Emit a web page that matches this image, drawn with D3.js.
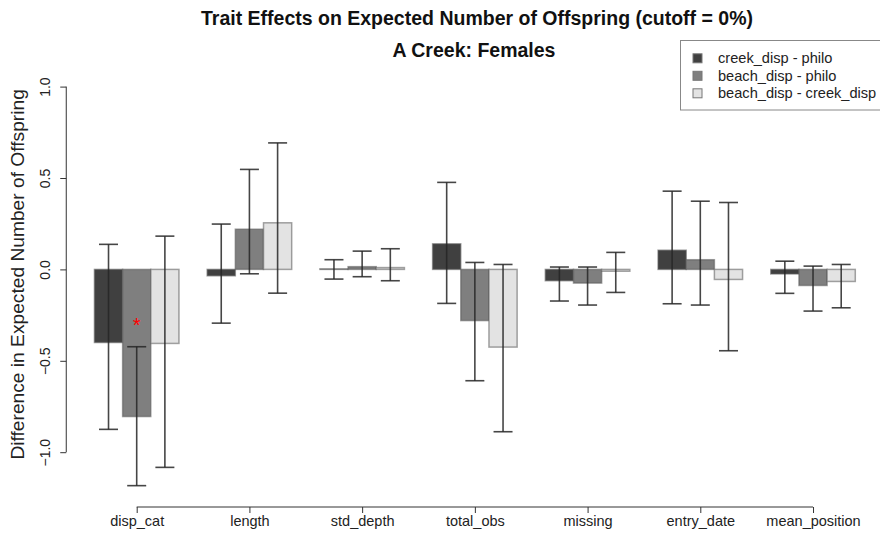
<!DOCTYPE html>
<html>
<head>
<meta charset="utf-8">
<script src="https://cdn.jsdelivr.net/npm/d3@7"></script>
<style>
  html, body { margin: 0; padding: 0; background: #fff; }
  svg { display: block; font-family: "Liberation Sans", Arial, Helvetica, sans-serif; }
</style>
</head>
<body>
<svg id="chart" width="880" height="539"></svg>
<script>
// ---- data ----
const categories = ["disp_cat", "length", "std_depth", "total_obs", "missing", "entry_date", "mean_position"];
const seriesNames = ["creek_disp - philo", "beach_disp - philo", "beach_disp - creek_disp"];

const creekPhilo   = [-0.400, -0.035, 0.003, 0.140, -0.062, 0.105, -0.025];
const beachPhilo   = [-0.805,  0.220, 0.015, -0.280, -0.075, 0.053, -0.088];
const beachCreek   = [-0.405,  0.255, 0.010, -0.425, -0.010, -0.055, -0.066];

const creekPhiloLo = [-0.875, -0.294, -0.053, -0.186, -0.173, -0.188, -0.131];
const creekPhiloHi = [ 0.137,  0.248,  0.053,  0.476,  0.013,  0.428,  0.045];
const beachPhiloLo = [-1.183, -0.024, -0.040, -0.609, -0.195, -0.195, -0.228];
const beachPhiloHi = [-0.423,  0.547,  0.100,  0.038,  0.013,  0.373,  0.018];
const beachCreekLo = [-1.083, -0.130, -0.062, -0.888, -0.126, -0.445, -0.210];
const beachCreekHi = [ 0.182,  0.692,  0.113,  0.027,  0.093,  0.366,  0.027];

const yTicks = [-1.0, -0.5, 0.0, 0.5, 1.0];
const sigMarks = [{ trait: "disp_cat", series: "beach_disp - philo", value: -0.30 }];

const titleText = "Trait Effects on Expected Number of Offspring (cutoff = 0%)";
const subtitleText = "A Creek: Females";
const yTitle = "Difference in Expected Number of Offspring";

// ---- build table ----
const values = [creekPhilo, beachPhilo, beachCreek];
const lows = [creekPhiloLo, beachPhiloLo, beachCreekLo];
const highs = [creekPhiloHi, beachPhiloHi, beachCreekHi];
const rows = [];
categories.forEach((c, i) => {
  seriesNames.forEach((s, j) => {
    rows.push({ cat: c, series: s, value: values[j][i], lo: lows[j][i], hi: highs[j][i] });
  });
});

// ---- layout ----
const svg = d3.select("#chart");
const axisX = 66.25;       // y-axis position
const unit = 28.18;        // one bar width
const y = d3.scaleLinear().domain([-1, 1]).range([452.2, 86.6]);

const x0 = d3.scaleBand()
  .domain(categories)
  .range([axisX + 0.5 * unit, axisX + 28.5 * unit])
  .paddingInner(0.25)
  .paddingOuter(0.125);
const x1 = d3.scaleBand().domain(seriesNames).range([0, x0.bandwidth()]).padding(0);
const color = d3.scaleOrdinal().domain(seriesNames).range(["#404040", "#7f7f7f", "#e3e3e3"]);

// bars
svg.append("g").selectAll("rect").data(rows).join("rect")
  .attr("x", d => x0(d.cat) + x1(d.series))
  .attr("width", x1.bandwidth())
  .attr("y", d => y(Math.max(0, d.value)))
  .attr("height", d => Math.abs(y(d.value) - y(0)))
  .attr("fill", d => color(d.series))
  .attr("stroke", "rgba(90,90,90,0.55)")
  .attr("stroke-width", 1.5);

// error bars
const capHalf = 9.5;
const eb = svg.append("g")
  .attr("stroke", "#262626")
  .attr("stroke-opacity", 0.85)
  .attr("stroke-width", 1.6)
  .attr("fill", "none");
rows.forEach(d => {
  const cx = x0(d.cat) + x1(d.series) + x1.bandwidth() / 2;
  eb.append("line").attr("x1", cx).attr("x2", cx).attr("y1", y(d.lo)).attr("y2", y(d.hi));
  eb.append("line").attr("x1", cx - capHalf).attr("x2", cx + capHalf).attr("y1", y(d.lo)).attr("y2", y(d.lo));
  eb.append("line").attr("x1", cx - capHalf).attr("x2", cx + capHalf).attr("y1", y(d.hi)).attr("y2", y(d.hi));
});

// significance marks
svg.append("g").selectAll("text").data(sigMarks).join("text")
  .attr("x", d => x0(d.trait) + x1(d.series) + x1.bandwidth() / 2)
  .attr("y", d => y(d.value) + 8)
  .attr("text-anchor", "middle")
  .attr("fill", "#ff0000")
  .attr("font-size", 20)
  .text("*");

// y axis
const yAxisG = svg.append("g").attr("transform", `translate(${axisX},0)`)
  .call(d3.axisLeft(y).tickValues(yTicks).tickFormat(d3.format(".1f")).tickSize(6).tickPadding(0));
yAxisG.select(".domain").attr("stroke", "#333").attr("d", `M0,${y(-1)}V${y(1)}`);
yAxisG.selectAll(".tick line").attr("stroke", "#333");
yAxisG.selectAll(".tick text")
  .attr("font-size", 14)
  .attr("fill", "#222")
  .attr("font-family", "Liberation Sans, Arial, sans-serif")
  .attr("text-anchor", "middle")
  .attr("transform", "translate(-21,0) rotate(-90)")
  .attr("x", 0)
  .attr("dy", "0.35em");

// x axis
const centers = categories.map(c => x0(c) + x0.bandwidth() / 2);
const xAxisScale = d3.scalePoint().domain(categories).range([centers[0], centers[centers.length - 1]]);
const xAxisG = svg.append("g").attr("transform", "translate(0,507)")
  .call(d3.axisBottom(xAxisScale).tickSize(6).tickPadding(3));
xAxisG.select(".domain").attr("stroke", "#333").attr("d", `M${centers[0]},0H${centers[centers.length - 1]}`);
xAxisG.selectAll(".tick line").attr("stroke", "#333");
xAxisG.selectAll(".tick text")
  .attr("font-size", 14.5)
  .attr("fill", "#222")
  .attr("font-family", "Liberation Sans, Arial, sans-serif");

// y title
svg.append("text")
  .attr("transform", `translate(24,${(y(1) + y(-1)) / 2 + 5}) rotate(-90)`)
  .attr("text-anchor", "middle")
  .attr("font-size", 19.2)
  .attr("fill", "#222")
  .text(yTitle);

// titles
svg.append("text").attr("x", 477).attr("y", 25).attr("text-anchor", "middle")
  .attr("font-size", 19.5).attr("font-weight", "bold").attr("fill", "#111").text(titleText);
svg.append("text").attr("x", 474).attr("y", 57).attr("text-anchor", "middle")
  .attr("font-size", 19.5).attr("font-weight", "bold").attr("fill", "#111").text(subtitleText);

// legend
const lg = svg.append("g");
lg.append("rect").attr("x", 680.5).attr("y", 40.5).attr("width", 215).attr("height", 69.5)
  .attr("fill", "#fff").attr("stroke", "#888");
seriesNames.forEach((s, i) => {
  const cy = 58.3 + i * 17.5;
  lg.append("rect").attr("x", 693).attr("y", cy - 4.5).attr("width", 9).attr("height", 9)
    .attr("fill", color(s)).attr("stroke", "#777").attr("stroke-width", 1);
  lg.append("text").attr("x", 718).attr("y", cy).attr("dy", "0.35em")
    .attr("font-size", 14.6).attr("fill", "#222").text(s);
});
</script>
</body>
</html>
